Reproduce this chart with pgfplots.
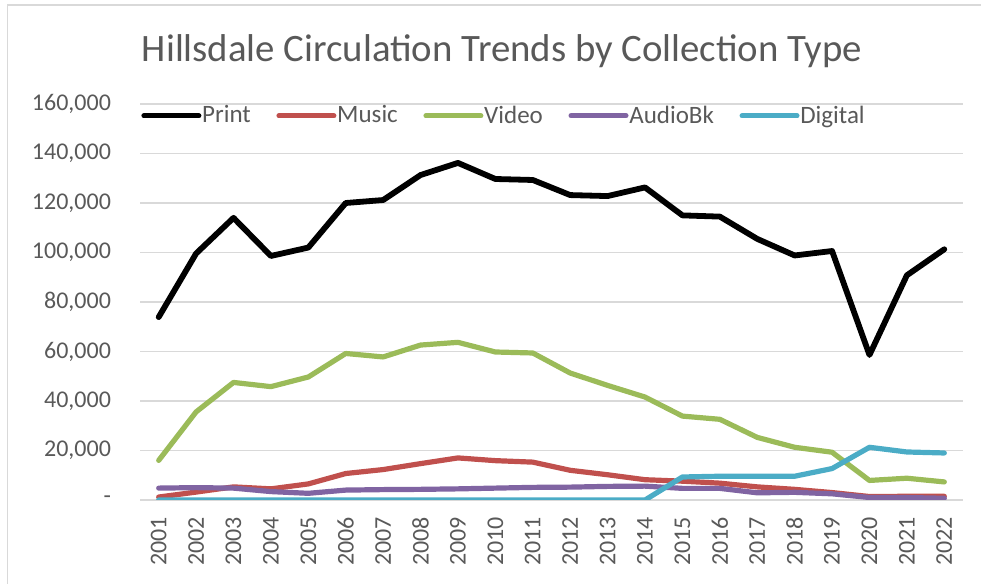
\documentclass[border=0pt]{standalone}
\usepackage{pgfplots}
\pgfplotsset{compat=1.18}
\usepackage{fontspec}
\setmainfont{Carlito}
\definecolor{txt}{HTML}{595959}
\definecolor{grd}{HTML}{D9D9D9}
\definecolor{cmusic}{HTML}{C0504D}
\definecolor{cvideo}{HTML}{9BBB59}
\definecolor{caudio}{HTML}{8064A2}
\definecolor{cdig}{HTML}{4BACC6}
\begin{document}
\begin{tikzpicture}
\draw[grd, line width=0.8pt] (3.75pt,-5pt) -- (3.75pt,289.5pt) -- (500pt,289.5pt);
\node[anchor=base, text=txt, font=\fontsize{19.4}{23}\selectfont] at (251pt,261pt) {Hillsdale Circulation Trends by Collection Type};
\begin{axis}[at={(70pt,42pt)}, anchor=south west, scale only axis,
  width=411.5pt, height=198pt,
  xmin=2000.5, xmax=2022.5, ymin=0, ymax=160000,
  scaled y ticks=false,
  xtick={2001,2002,...,2022},
  xticklabels={2001,2002,2003,2004,2005,2006,2007,2008,2009,2010,2011,2012,2013,2014,2015,2016,2017,2018,2019,2020,2021,2022},
  ytick={0,20000,40000,60000,80000,100000,120000,140000,160000},
  yticklabels={{-},{20,000},{40,000},{60,000},{80,000},{100,000},{120,000},{140,000},{160,000}},
  axis line style={draw=none}, major tick length=0pt,
  tick style={draw=none},
  ymajorgrids, grid style={grd, line width=0.7pt},
  ticklabel style={font=\fontsize{12}{14}\selectfont, text=txt},
  yticklabel style={anchor=east, xshift=-11pt},
  xticklabel style={rotate=90, anchor=east, xshift=-5pt},
  every axis plot/.append style={line width=2.6pt, line join=round, line cap=round, mark=none},
  legend columns=5,
  legend style={at={(0.0012,0.97)}, anchor=west, draw=none, fill=none, inner sep=0pt,
    font=\fontsize{12.5}{15}\selectfont, text=txt,
    nodes={inner xsep=0.4pt, inner ysep=1pt},
    /tikz/every even column/.append style={column sep=12.4pt}},
  legend cell align=left,
  legend image code/.code={\draw[#1, line cap=round, line width=2.5pt] (0pt,0pt) -- (27.5pt,0pt);},
]
\addplot[black, line width=2.9pt] coordinates {
(2001,73900)(2002,99600)(2003,114000)(2004,98600)(2005,102000)(2006,120000)(2007,121200)(2008,131300)(2009,136200)(2010,129700)(2011,129300)(2012,123200)(2013,122800)(2014,126300)(2015,115000)(2016,114500)(2017,105500)(2018,98800)(2019,100600)(2020,58600)(2021,90800)(2022,101300)};
\addlegendentry{Print}
\addplot[cmusic] coordinates {
(2001,1200)(2002,3200)(2003,5300)(2004,4500)(2005,6500)(2006,10700)(2007,12300)(2008,14700)(2009,17000)(2010,15900)(2011,15300)(2012,12000)(2013,10200)(2014,8200)(2015,7600)(2016,6800)(2017,5300)(2018,4300)(2019,3000)(2020,1400)(2021,1500)(2022,1500)};
\addlegendentry{Music}
\addplot[cvideo] coordinates {
(2001,16000)(2002,35600)(2003,47500)(2004,45800)(2005,49700)(2006,59200)(2007,57800)(2008,62600)(2009,63700)(2010,59800)(2011,59400)(2012,51300)(2013,46300)(2014,41600)(2015,33900)(2016,32600)(2017,25300)(2018,21300)(2019,19300)(2020,7900)(2021,8800)(2022,7300)};
\addlegendentry{Video}
\addplot[caudio] coordinates {
(2001,4800)(2002,5000)(2003,4800)(2004,3400)(2005,2700)(2006,4000)(2007,4200)(2008,4300)(2009,4500)(2010,4800)(2011,5100)(2012,5200)(2013,5500)(2014,5600)(2015,4700)(2016,4700)(2017,2900)(2018,3100)(2019,2500)(2020,1000)(2021,1000)(2022,700)};
\addlegendentry{AudioBk}
\addplot[cdig] coordinates {
(2001,0)(2002,0)(2003,0)(2004,0)(2005,0)(2006,0)(2007,0)(2008,0)(2009,0)(2010,0)(2011,0)(2012,0)(2013,0)(2014,0)(2015,9300)(2016,9600)(2017,9600)(2018,9600)(2019,12700)(2020,21300)(2021,19400)(2022,19000)};
\addlegendentry{Digital}
\end{axis}
\pgfresetboundingbox
\path[use as bounding box] (0,0) rectangle (490.5pt,292pt);
\end{tikzpicture}
\end{document}
